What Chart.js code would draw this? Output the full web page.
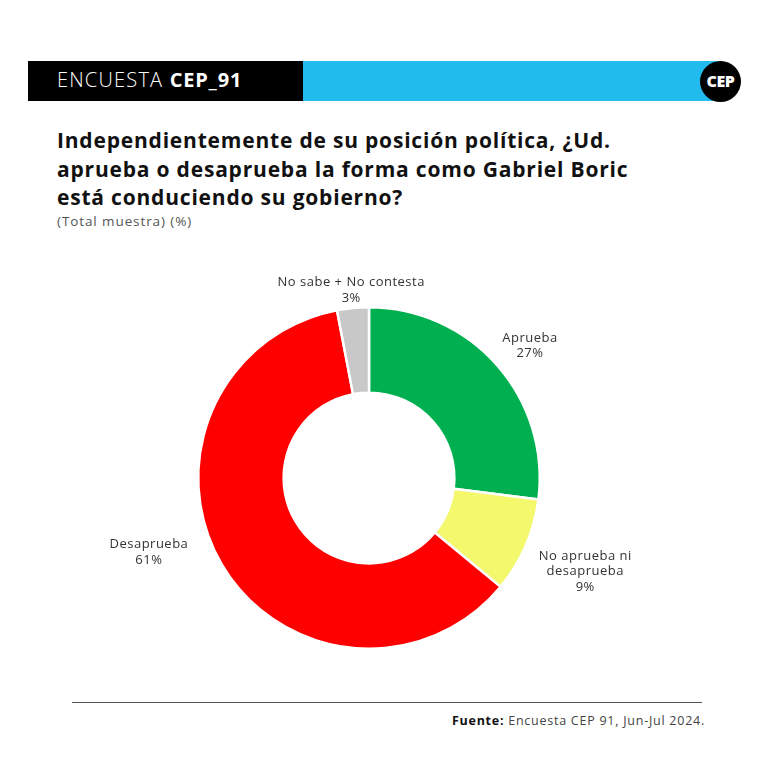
<!DOCTYPE html>
<html>
<head>
<meta charset="utf-8">
<script src="https://cdn.jsdelivr.net/npm/chart.js@4.4.1/dist/chart.umd.min.js"></script>
<style>
  html, body { margin:0; padding:0; background:#fff; }
  body { width:768px; height:768px; position:relative; overflow:hidden; font-family:"Open Sans", sans-serif; }
  #hdrBlack { position:absolute; left:28px; top:61px; width:275px; height:40px; background:#000; }
  #hdrBlue { position:absolute; left:303px; top:61px; width:420px; height:40px; background:#22BBEE; }
  #hdrText { position:absolute; left:57px; top:60px; height:40px; line-height:40px; color:#fff; font-size:20px; font-weight:300; letter-spacing:1.2px; white-space:nowrap; }
  #hdrText b { font-weight:700; letter-spacing:0.8px; }
  #logo { position:absolute; left:700px; top:61px; width:41px; height:41px; border-radius:50%; background:#000; color:#fff; font-weight:800; font-size:16px; line-height:41px; text-align:center; letter-spacing:-0.5px; }
  #title { position:absolute; left:57px; top:126px; width:700px; font-size:21px; font-weight:700; line-height:28.5px; color:#111; letter-spacing:0.8px; white-space:nowrap; }
  #subtitle { position:absolute; left:57px; top:212px; font-size:13.5px; color:#555; letter-spacing:0.9px; }
  #chartBox { position:absolute; left:69px; top:258px; width:600px; height:440px; }
  #rule { position:absolute; left:72px; top:702px; width:630px; height:0; border-top:1.5px solid #555; }
  #source { position:absolute; right:63px; top:712px; font-size:12.5px; color:#444; letter-spacing:0.75px; white-space:nowrap; }
  #source b { color:#111; font-weight:700; }
</style>
</head>
<body>
<div id="hdrBlack"></div>
<div id="hdrBlue"></div>
<div id="hdrText">ENCUESTA <b>CEP_91</b></div>
<div id="logo">CEP</div>
<div id="title">Independientemente de su posición política, ¿Ud.<br>aprueba o desaprueba la forma como Gabriel Boric<br>está conduciendo su gobierno?</div>
<div id="subtitle">(Total muestra) (%)</div>
<div id="chartBox"><canvas id="c" width="600" height="440"></canvas></div>
<div id="rule"></div>
<div id="source"><b>Fuente:</b> Encuesta CEP 91, Jun-Jul 2024.</div>
<script>
const categories = ["Aprueba", "No aprueba ni desaprueba", "Desaprueba", "No sabe + No contesta"];
const labelLines = [["Aprueba"], ["No aprueba ni", "desaprueba"], ["Desaprueba"], ["No sabe + No contesta"]];
const values = [27, 9, 61, 3];
const colors = ["#00B050", "#F4F86C", "#FF0000", "#C8C8C8"];
// label placement style: radial distance factor and angle shift (degrees)
const labelRadius = [1.22, 1.38, 1.36, 1.105];
const labelShift = [2, 0, 12, 0];

const outsideLabels = {
  id: 'outsideLabels',
  afterDatasetsDraw(chart) {
    const ctx = chart.ctx;
    const meta = chart.getDatasetMeta(0);
    ctx.save();
    ctx.font = '13px "Open Sans", sans-serif';
    if ('letterSpacing' in ctx) ctx.letterSpacing = '0.5px';
    ctx.fillStyle = '#333';
    ctx.textAlign = 'center';
    ctx.textBaseline = 'middle';
    meta.data.forEach((arc, i) => {
      const p = arc.getProps(['x','y','startAngle','endAngle','outerRadius'], true);
      const mid = (p.startAngle + p.endAngle) / 2 + labelShift[i] * Math.PI / 180;
      const r = p.outerRadius * labelRadius[i];
      const x = p.x + Math.cos(mid) * r;
      const y = p.y + Math.sin(mid) * r;
      const lines = labelLines[i].concat([values[i] + '%']);
      const lh = 15.5;
      const y0 = y - (lines.length - 1) * lh / 2;
      lines.forEach((t, k) => ctx.fillText(t, x, y0 + k * lh));
    });
    ctx.restore();
  }
};

new Chart(document.getElementById('c'), {
  type: 'doughnut',
  data: {
    labels: categories,
    datasets: [{
      data: values,
      backgroundColor: colors,
      borderColor: '#fff',
      borderWidth: 2.5,
      hoverOffset: 0
    }]
  },
  options: {
    responsive: false,
    animation: false,
    cutout: '50%',
    layout: { padding: { top: 48, bottom: 48 } },
    plugins: { legend: { display: false }, tooltip: { enabled: false } }
  },
  plugins: [outsideLabels]
});
</script>
</body>
</html>
